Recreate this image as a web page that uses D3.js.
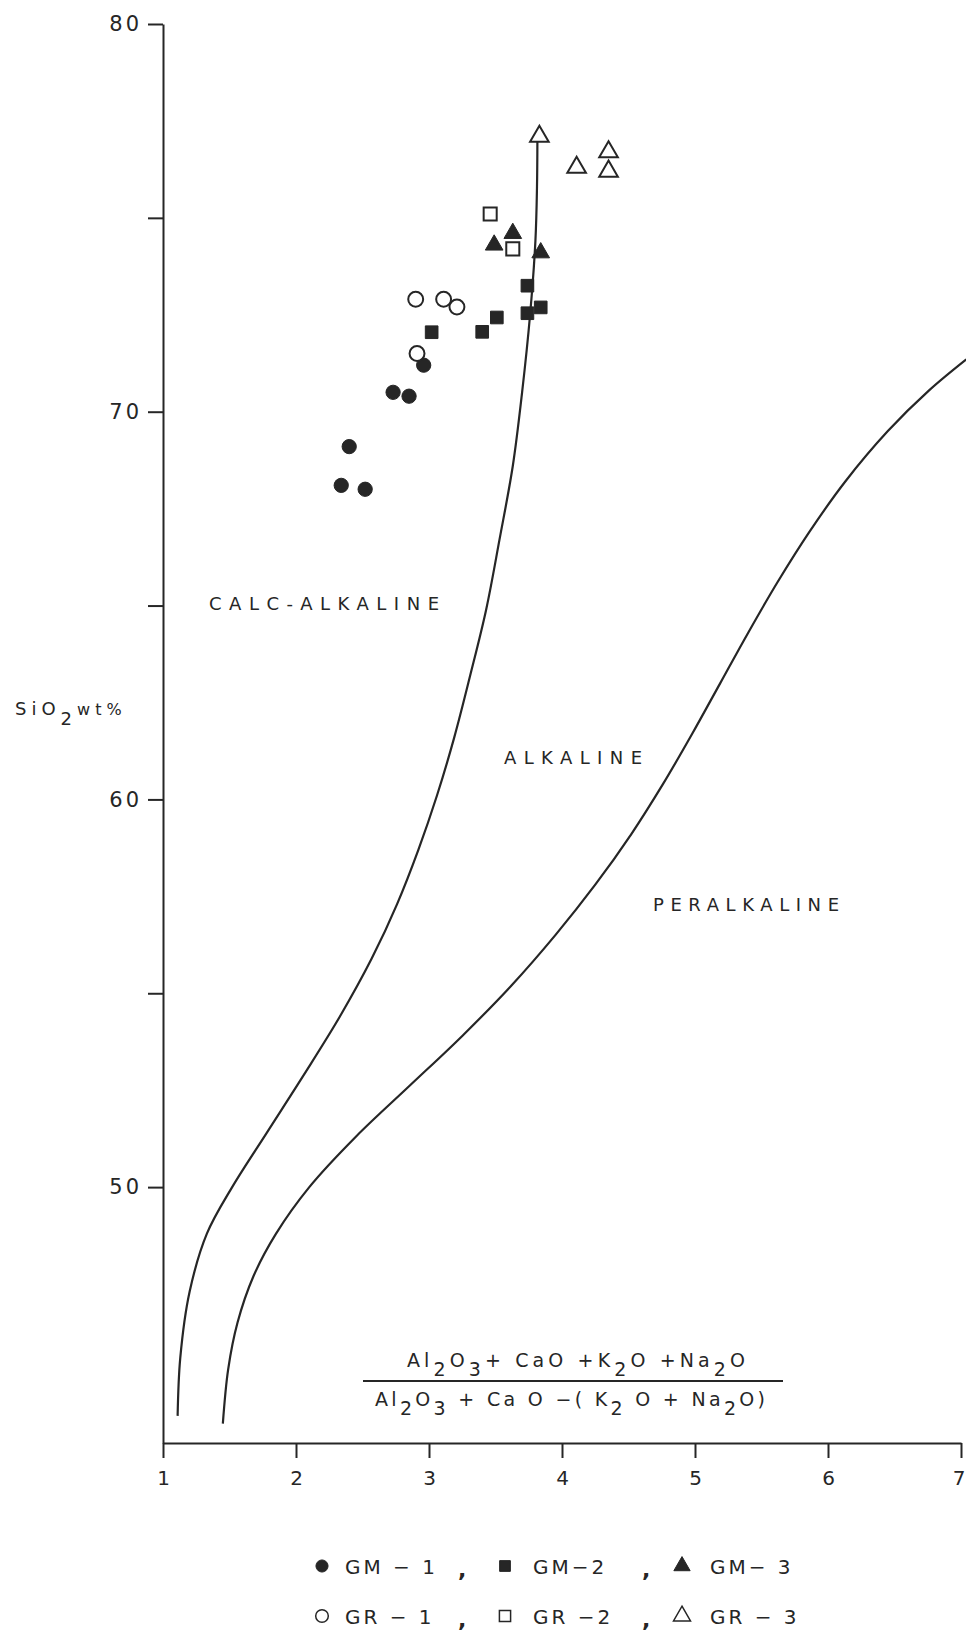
<!DOCTYPE html>
<html>
<head>
<meta charset="utf-8">
<script src="https://cdn.jsdelivr.net/npm/d3@7"></script>
<style>
  body { margin: 0; background: #fff; }
  svg text { font-family: "DejaVu Sans", "Liberation Sans", Arial, sans-serif; fill: #262626; }
</style>
</head>
<body>
<svg id="chart" width="966" height="1638"></svg>
<script>
// sample points, [ratio, SiO2 wt%]
const gm1 = [[2.96, 71.2], [2.73, 70.5], [2.85, 70.4], [2.40, 69.1], [2.34, 68.1], [2.52, 68.0]];
const gm2 = [[3.02, 72.05], [3.40, 72.06], [3.51, 72.43], [3.74, 72.54], [3.84, 72.69], [3.74, 73.25]];
const gm3 = [[3.63, 74.6], [3.49, 74.3], [3.84, 74.1]];
const gr1 = [[2.90, 72.9], [3.11, 72.9], [3.21, 72.7], [2.91, 71.5]];
const gr2 = [[3.46, 75.1], [3.63, 74.2]];
const gr3 = [[3.83, 77.1], [4.11, 76.3], [4.35, 76.7], [4.35, 76.2]];

// field boundaries
const calcAlkalineLine = [[1.11, 44.1], [1.13, 45.6], [1.20, 47.3], [1.33, 48.8], [1.52, 50.0], [1.78, 51.4],
  [2.06, 52.9], [2.33, 54.4], [2.57, 55.9], [2.76, 57.3], [2.92, 58.7], [3.06, 60.1], [3.19, 61.6],
  [3.31, 63.2], [3.43, 64.9], [3.53, 66.7], [3.63, 68.6], [3.70, 70.5], [3.76, 72.5], [3.80, 74.4],
  [3.812, 75.8], [3.815, 77.0]];
const peralkalineLine = [[1.45, 43.9], [1.49, 45.3], [1.56, 46.5], [1.68, 47.7], [1.85, 48.8], [2.10, 50.0],
  [2.45, 51.3], [2.85, 52.6], [3.25, 53.9], [3.62, 55.2], [3.95, 56.5], [4.25, 57.8], [4.52, 59.1],
  [4.76, 60.4], [4.98, 61.7], [5.19, 63.0], [5.40, 64.3], [5.62, 65.6], [5.86, 66.9], [6.13, 68.2],
  [6.45, 69.5], [6.76, 70.55], [7.04, 71.35]];

const xTicks = [1, 2, 3, 4, 5, 6, 7];
const yTicks = [50, 55, 60, 65, 70, 75, 80];
const fieldNames = ["CALC-ALKALINE", "ALKALINE", "PERALKALINE"];
const legendRow1 = ["GM − 1", "GM−2", "GM− 3"];
const legendRow2 = ["GR − 1", "GR −2", "GR − 3"];

const ink = "#262626";
const svg = d3.select("#chart");
let margin = {top: 24, left: 163, right: 5, bottom: 195};
let width = +svg.attr("width"), height = +svg.attr("height");

let x = d3.scaleLinear().domain([1, 7]).range([margin.left, width - margin.right]);
let y = d3.scaleLinear().domain([43.4, 80]).range([height - margin.bottom, margin.top]);

// axes
let xAxis = d3.axisBottom(x).tickValues(xTicks).tickSize(15).tickPadding(13).tickSizeOuter(0)
  .tickFormat(d3.format("d"));
let yAxis = d3.axisLeft(y).tickValues(yTicks).tickSize(15).tickPadding(6).tickSizeOuter(0)
  .tickFormat(d => d % 10 === 0 ? d : "");

svg.append("g")
  .attr("transform", `translate(0,${y(43.4)})`)
  .call(xAxis)
  .call(g => g.selectAll("path, line").attr("stroke", ink).attr("stroke-width", 2))
  .call(g => g.selectAll("text").style("font-size", "20px").attr("fill", ink))
  .call(g => g.selectAll(".tick:last-of-type text").attr("text-anchor", "end").attr("x", 4));

svg.append("g")
  .attr("transform", `translate(${x(1)},0)`)
  .call(yAxis)
  .call(g => g.selectAll("path, line").attr("stroke", ink).attr("stroke-width", 2))
  .call(g => g.selectAll("text").style("font-size", "21px").style("letter-spacing", "3px").attr("fill", ink));

// boundary curves
let line = d3.line().x(d => x(d[0])).y(d => y(d[1])).curve(d3.curveCatmullRom.alpha(0.5));
[calcAlkalineLine, peralkalineLine].forEach(pts => {
  svg.append("path")
    .attr("d", line(pts))
    .attr("fill", "none")
    .attr("stroke", ink)
    .attr("stroke-width", 2.2);
});

// field labels
const fieldPos = [[209, 610, 230], [504, 764, 138], [653, 911, 186]];
fieldNames.forEach((name, i) => {
  svg.append("text")
    .attr("x", fieldPos[i][0])
    .attr("y", fieldPos[i][1])
    .attr("textLength", fieldPos[i][2])
    .attr("lengthAdjust", "spacing")
    .style("font-size", "18px")
    .text(name);
});

// sample symbols
const series = [
  {pts: gm1, type: d3.symbolCircle, size: 160, filled: true},
  {pts: gm2, type: d3.symbolSquare, size: 160, filled: true},
  {pts: gm3, type: d3.symbolTriangle, size: 135, filled: true},
  {pts: gr1, type: d3.symbolCircle, size: 175, filled: false},
  {pts: gr2, type: d3.symbolSquare, size: 170, filled: false},
  {pts: gr3, type: d3.symbolTriangle, size: 150, filled: false}
];
series.forEach(s => {
  svg.append("g").selectAll("path")
    .data(s.pts)
    .join("path")
    .attr("transform", d => `translate(${x(d[0])},${y(d[1])})`)
    .attr("d", d3.symbol().type(s.type).size(s.size))
    .attr("fill", s.filled ? ink : "#fff")
    .attr("stroke", ink)
    .attr("stroke-width", s.filled ? 1 : 2);
});

// chemical formula with subscripts, stretched to a given width
function formula(cx, baseline, parts, size, len) {
  let t = svg.append("text")
    .attr("x", cx).attr("y", baseline)
    .attr("text-anchor", "middle")
    .attr("textLength", len)
    .attr("lengthAdjust", "spacing")
    .style("font-size", size + "px");
  let sub = false;
  parts.forEach(p => {
    let isSub = /^[0-9]$/.test(p);
    let ts = t.append("tspan").text(p);
    if (isSub && !sub) ts.attr("dy", 9);
    if (!isSub && sub) ts.attr("dy", -9);
    sub = isSub;
  });
  return t;
}

// y axis label
let yl = svg.append("text").attr("x", 15).attr("y", 715).style("font-size", "18px").style("letter-spacing", "5px");
yl.append("tspan").text("SiO");
yl.append("tspan").attr("dy", 10).text("2");
yl.append("tspan").attr("dy", -10).style("font-size", "16px").text("wt%");

// x axis label (fraction)
formula(576, 1367, ["Al", "2", "O", "3", "+ CaO +K", "2", "O +Na", "2", "O"], 19, 338);
svg.append("line")
  .attr("x1", 363).attr("x2", 783).attr("y1", 1381).attr("y2", 1381)
  .attr("stroke", ink).attr("stroke-width", 2);
formula(570, 1406, ["Al", "2", "O", "3", " + Ca O −( K", "2", " O + Na", "2", "O)"], 19, 390);

// legend
const legendX = [322, 505, 682], commaX = [458, 642];
[legendRow1, legendRow2].forEach((row, r) => {
  let ly = 1566 + r * 50;
  row.forEach((label, i) => {
    let s = series[r * 3 + i];
    svg.append("path")
      .attr("transform", `translate(${legendX[i]},${ly})`)
      .attr("d", d3.symbol().type(s.type).size(s.filled ? 115 : 125))
      .attr("fill", s.filled ? ink : "#fff")
      .attr("stroke", ink)
      .attr("stroke-width", s.filled ? 1 : 1.5);
    svg.append("text")
      .attr("x", legendX[i] + (i === 0 ? 23 : 28)).attr("y", ly + 8)
      .style("font-size", "20px")
      .style("letter-spacing", "3px")
      .text(label);
  });
  commaX.forEach(cx => {
    svg.append("text").attr("x", cx).attr("y", ly + 11).style("font-size", "22px").style("font-weight", "bold").text(",");
  });
});
</script>
</body>
</html>
